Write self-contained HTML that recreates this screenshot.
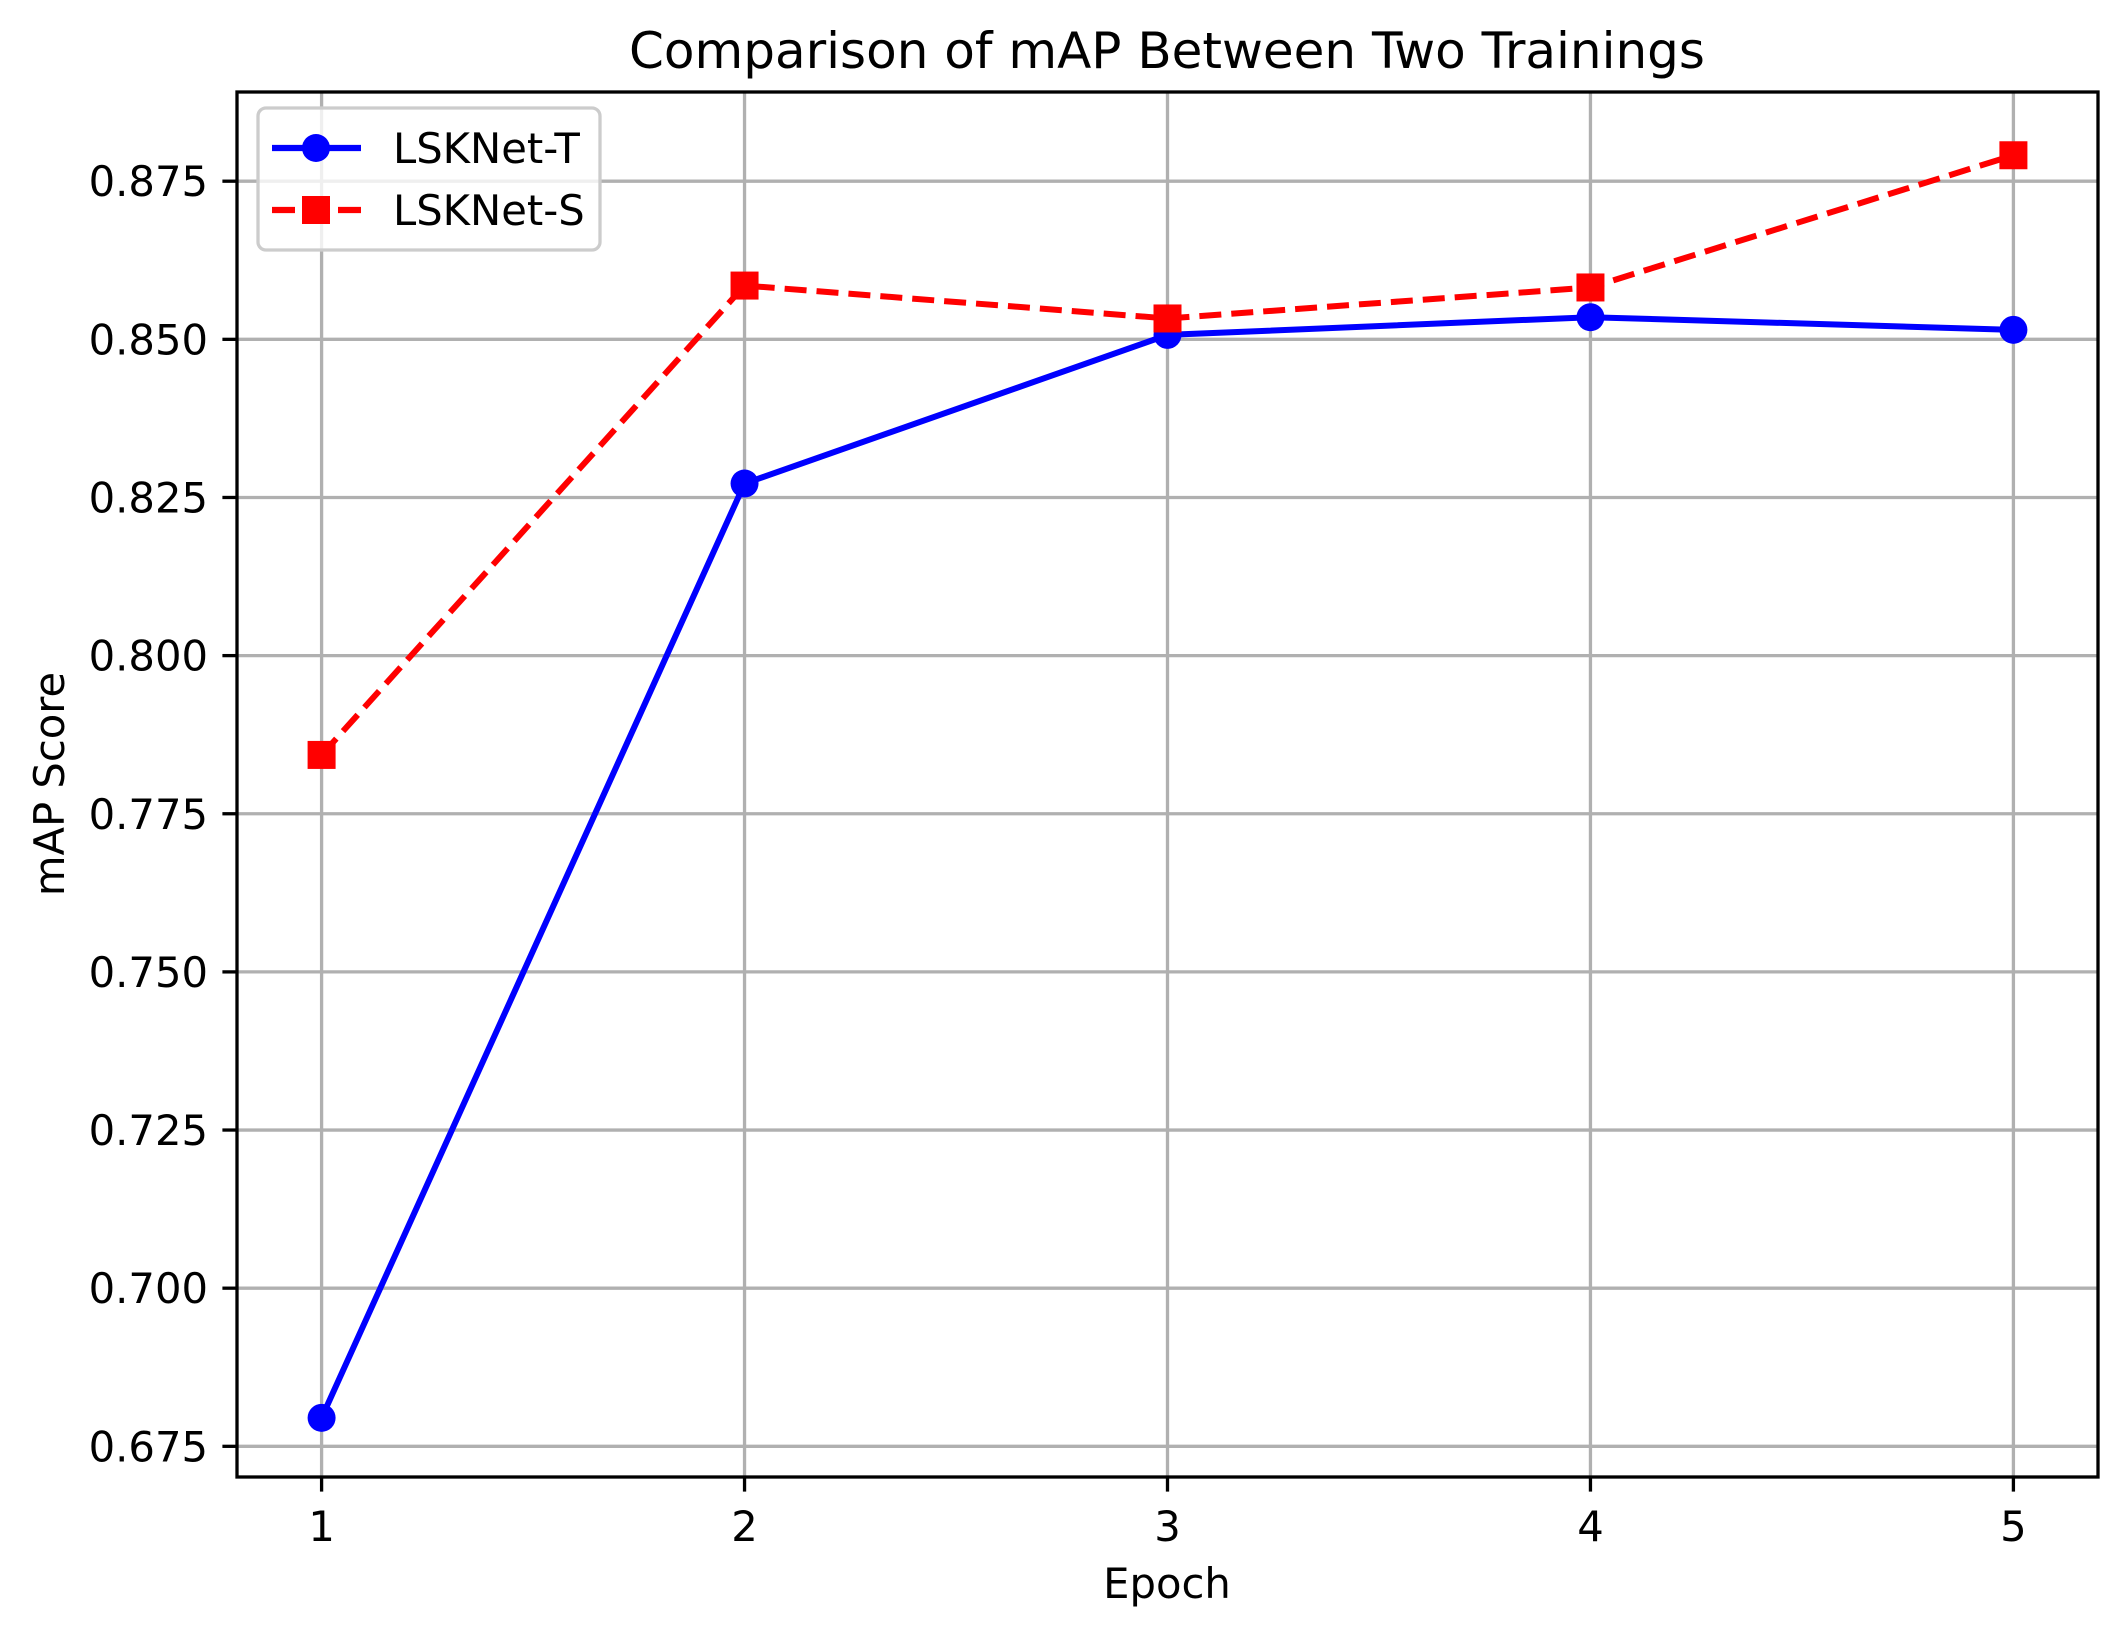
<!DOCTYPE html>
<html><head><meta charset="utf-8"><style>
body{margin:0;background:#fff;}
svg text{font-family:"DejaVu Sans","Liberation Sans",sans-serif;fill:#000;}
</style></head><body>
<svg id="chart" width="2127" height="1638" xmlns="http://www.w3.org/2000/svg">
<rect width="2127" height="1638" fill="#fff"/>
<g id="grid"></g>
<g id="series"></g>
<rect x="237" y="92" width="1861" height="1385" fill="none" stroke="#000" stroke-width="3.3"/>
<g id="ticks"></g>
<text x="1167" y="68" font-size="50" text-anchor="middle">Comparison of mAP Between Two Trainings</text>
<text x="1167" y="1598" font-size="41.7" text-anchor="middle">Epoch</text>
<text transform="translate(64,784) rotate(-90)" font-size="41.7" text-anchor="middle">mAP Score</text>
<g>
<rect x="258" y="108" width="342" height="142" rx="8" fill="#fff" fill-opacity="0.8" stroke="#ccc" stroke-width="3.3"/>
<g>
<line x1="272" y1="148" x2="361" y2="148" stroke="#0000ff" stroke-width="6.25"/>
<circle cx="316" cy="148" r="14" fill="#0000ff"/>
<text x="393" y="163" font-size="41.7">LSKNet-T</text></g>
<g>
<line x1="272" y1="210" x2="361" y2="210" stroke="#ff0000" stroke-width="6.25" stroke-dasharray="23,10"/>
<rect x="302" y="196" width="28" height="28" fill="#ff0000"/>
<text x="393" y="225" font-size="41.7">LSKNet-S</text></g>
</g>
</svg>
<script>
const epochs=[1,2,3,4,5];
const lsknetT=[0.6795,0.8272,0.8507,0.8535,0.8515];
const lsknetS=[0.7843,0.8585,0.8533,0.8582,0.8791];
const yTicks=[0.675,0.700,0.725,0.750,0.775,0.800,0.825,0.850,0.875];
const yTickLabels=["0.675","0.700","0.725","0.750","0.775","0.800","0.825","0.850","0.875"];
const xTickLabels=["1","2","3","4","5"];
const NS="http://www.w3.org/2000/svg";
const L=237,R=2098,T=92,B=1477;
const xMin=0.8,xMax=5.2,yMin=0.67015,yMax=0.8891;
const xs=v=>L+(v-xMin)/(xMax-xMin)*(R-L);
const ys=v=>B-(v-yMin)/(yMax-yMin)*(B-T);
function mk(tag,attrs,parent){const e=document.createElementNS(NS,tag);for(const k in attrs)e.setAttribute(k,attrs[k]);parent.appendChild(e);return e;}
const grid=document.getElementById('grid'),ticks=document.getElementById('ticks'),series=document.getElementById('series');
yTicks.forEach((v,i)=>{const y=ys(v);
 let g=mk('line',{x1:L,x2:R,y1:y,y2:y,stroke:'#b0b0b0','stroke-width':3.3},grid);
 
 let t=mk('line',{x1:L-14.6,x2:L,y1:y,y2:y,stroke:'#000','stroke-width':3.3},ticks);
 
 let tx=mk('text',{x:L-29,y:y+15,'font-size':41.7,'text-anchor':'end'},ticks);tx.textContent=yTickLabels[i];
 });
epochs.forEach((v,i)=>{const x=xs(v);
 let g=mk('line',{x1:x,x2:x,y1:T,y2:B,stroke:'#b0b0b0','stroke-width':3.3},grid);
 
 let t=mk('line',{x1:x,x2:x,y1:B,y2:B+14.6,stroke:'#000','stroke-width':3.3},ticks);
 
 let tx=mk('text',{x:x,y:B+64,'font-size':41.7,'text-anchor':'middle'},ticks);tx.textContent=xTickLabels[i];
 });
function pts(arr){return arr.map((v,i)=>xs(epochs[i])+','+ys(v)).join(' ');}
let lt=mk('polyline',{points:pts(lsknetT),fill:'none',stroke:'#0000ff','stroke-width':6},series);

let ls=mk('polyline',{points:pts(lsknetS),fill:'none',stroke:'#ff0000','stroke-width':6,'stroke-dasharray':'22,10'},series);

lsknetT.forEach((v,i)=>{let c=mk('circle',{cx:xs(epochs[i]),cy:ys(v),r:14,fill:'#0000ff'},series);
 });
lsknetS.forEach((v,i)=>{let c=mk('rect',{x:xs(epochs[i])-14,y:ys(v)-14,width:28,height:28,fill:'#ff0000'},series);
 });
</script>
</body></html>
